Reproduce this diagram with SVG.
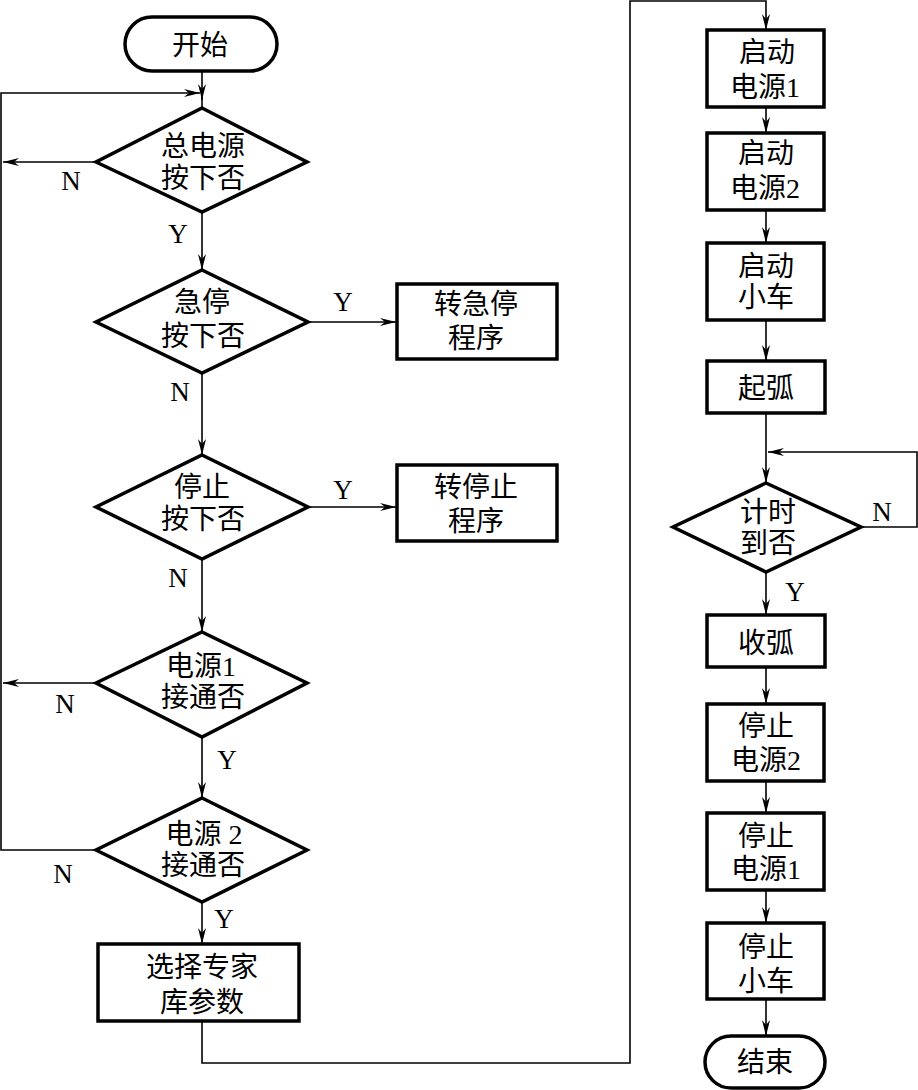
<svg xmlns="http://www.w3.org/2000/svg" width="918" height="1090" viewBox="0 0 918 1090">
<defs>
<marker id="arr" viewBox="0 0 16 8" refX="16" refY="4" markerWidth="16" markerHeight="8" markerUnits="userSpaceOnUse" orient="auto">
<path d="M0,0 L16,4 L0,8 L5,4 Z" fill="#000"/>
</marker>
<style>
.box{fill:#fff;stroke:#000;stroke-width:3.5}
.ln{fill:none;stroke:#000;stroke-width:1.6}
.t{font-family:"Liberation Serif","Noto Sans CJK SC",serif;font-size:28px;fill:#000;text-anchor:middle;dominant-baseline:central}
.lb{font-family:"Liberation Serif",serif;font-size:27px;fill:#000;text-anchor:middle;dominant-baseline:central}
</style>
</defs>
<rect width="918" height="1090" fill="#fff"/>
<g id="connectors">
<path class="ln" d="M202,71 V100" marker-end="url(#arr)"/>
<path class="ln" d="M202,93 V108"/>
<path class="ln" d="M96,850 H1 V93 H200" marker-end="url(#arr)"/>
<path class="ln" d="M96,162 H3" marker-end="url(#arr)"/>
<path class="ln" d="M202,212 V270" marker-end="url(#arr)"/>
<path class="ln" d="M308,322 H396" marker-end="url(#arr)"/>
<path class="ln" d="M202,373 V455" marker-end="url(#arr)"/>
<path class="ln" d="M308,507 H396" marker-end="url(#arr)"/>
<path class="ln" d="M202,559 V632" marker-end="url(#arr)"/>
<path class="ln" d="M96,683 H3" marker-end="url(#arr)"/>
<path class="ln" d="M202,737 V798" marker-end="url(#arr)"/>
<path class="ln" d="M202,902 V944" marker-end="url(#arr)"/>
<path class="ln" d="M202,1021 V1063 H630 V1 H766 V30" marker-end="url(#arr)"/>
<path class="ln" d="M766,107 V133" marker-end="url(#arr)"/>
<path class="ln" d="M766,210 V243" marker-end="url(#arr)"/>
<path class="ln" d="M766,320 V361" marker-end="url(#arr)"/>
<path class="ln" d="M766,413 V483" marker-end="url(#arr)"/>
<path class="ln" d="M861,527 H917 V452 H768" marker-end="url(#arr)"/>
<path class="ln" d="M766,572 V615" marker-end="url(#arr)"/>
<path class="ln" d="M766,667 V704" marker-end="url(#arr)"/>
<path class="ln" d="M766,781 V813" marker-end="url(#arr)"/>
<path class="ln" d="M766,890 V923" marker-end="url(#arr)"/>
<path class="ln" d="M766,999 V1036" marker-end="url(#arr)"/>
<text class="lb" x="71" y="181">N</text>
<text class="lb" x="178" y="234">Y</text>
<text class="lb" x="343" y="302">Y</text>
<text class="lb" x="180" y="392">N</text>
<text class="lb" x="343" y="490">Y</text>
<text class="lb" x="178" y="578">N</text>
<text class="lb" x="65" y="704">N</text>
<text class="lb" x="227" y="760">Y</text>
<text class="lb" x="63" y="874">N</text>
<text class="lb" x="224" y="919">Y</text>
<text class="lb" x="882" y="512">N</text>
<text class="lb" x="795" y="592">Y</text>
</g>
<g id="start">
<rect class="box" x="125" y="17" width="152" height="54" rx="27"/>
<text class="t" x="200" y="45">开始</text>
</g>
<g id="d-main-power">
<polygon class="box" points="202,108 307,162 202,212 96,162"/>
<text class="t" x="203" y="146">总电源</text>
<text class="t" x="203" y="178">按下否</text>
</g>
<g id="d-estop">
<polygon class="box" points="202,270 308,322 202,373 96,322"/>
<text class="t" x="202" y="302">急停</text>
<text class="t" x="203" y="336">按下否</text>
</g>
<g id="r-estop">
<rect class="box" x="397" y="284" width="160" height="75"/>
<text class="t" x="476" y="304">转急停</text>
<text class="t" x="476" y="338">程序</text>
</g>
<g id="d-stop">
<polygon class="box" points="202,455 308,507 202,559 96,507"/>
<text class="t" x="202" y="487">停止</text>
<text class="t" x="203" y="519">按下否</text>
</g>
<g id="r-stop">
<rect class="box" x="397" y="465" width="160" height="76"/>
<text class="t" x="476" y="487">转停止</text>
<text class="t" x="476" y="521">程序</text>
</g>
<g id="d-power1">
<polygon class="box" points="202,632 307,683 202,737 96,683"/>
<text class="t" x="201" y="666">电源1</text>
<text class="t" x="203" y="697">接通否</text>
</g>
<g id="d-power2">
<polygon class="box" points="202,798 307,850 202,902 96,850"/>
<text class="t" x="204" y="834">电源 2</text>
<text class="t" x="203" y="865">接通否</text>
</g>
<g id="r-select">
<rect class="box" x="98" y="944" width="201" height="77"/>
<text class="t" x="202" y="967">选择专家</text>
<text class="t" x="202" y="1002">库参数</text>
</g>
<g id="r-start-p1">
<rect class="box" x="707" y="30" width="117" height="77"/>
<text class="t" x="767" y="52">启动</text>
<text class="t" x="765" y="87">电源1</text>
</g>
<g id="r-start-p2">
<rect class="box" x="707" y="133" width="117" height="77"/>
<text class="t" x="766" y="153">启动</text>
<text class="t" x="765" y="188">电源2</text>
</g>
<g id="r-start-car">
<rect class="box" x="707" y="243" width="117" height="77"/>
<text class="t" x="766" y="266">启动</text>
<text class="t" x="766" y="297">小车</text>
</g>
<g id="r-arc-on">
<rect class="box" x="707" y="361" width="118" height="52"/>
<text class="t" x="766" y="388">起弧</text>
</g>
<g id="d-timer">
<polygon class="box" points="766,483 861,527 766,572 673,527"/>
<text class="t" x="768" y="512">计时</text>
<text class="t" x="768" y="543">到否</text>
</g>
<g id="r-arc-off">
<rect class="box" x="707" y="615" width="118" height="52"/>
<text class="t" x="766" y="643">收弧</text>
</g>
<g id="r-stop-p2">
<rect class="box" x="707" y="704" width="117" height="77"/>
<text class="t" x="766" y="726">停止</text>
<text class="t" x="766" y="760">电源2</text>
</g>
<g id="r-stop-p1">
<rect class="box" x="707" y="813" width="117" height="77"/>
<text class="t" x="766" y="836">停止</text>
<text class="t" x="766" y="869">电源1</text>
</g>
<g id="r-stop-car">
<rect class="box" x="707" y="923" width="117" height="76"/>
<text class="t" x="766" y="947">停止</text>
<text class="t" x="766" y="981">小车</text>
</g>
<g id="end">
<rect class="box" x="705" y="1036" width="120" height="52" rx="26"/>
<text class="t" x="765" y="1062">结束</text>
</g>
</svg>
